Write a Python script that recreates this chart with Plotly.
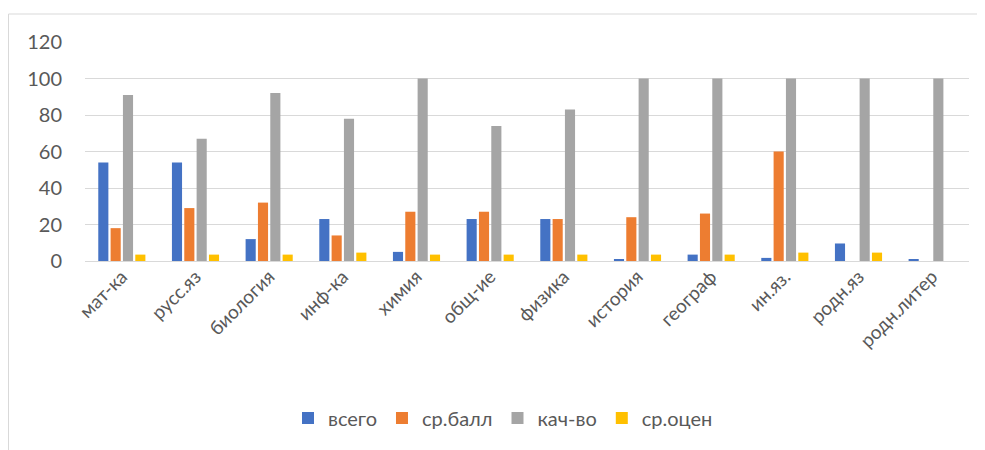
import plotly.graph_objects as go

categories = ["мат-ка", "русс.яз", "биология", "инф-ка", "химия", "общ-ие",
              "физика", "история", "географ", "ин.яз.", "родн.яз", "родн.литер"]
vsego = [54, 54, 12, 23, 5, 23, 23, 0.6, 3.5, 1.7, 9.6, 0.6]
sr_ball = [18, 29, 32, 14, 27, 27, 23, 24, 26, 60, 0, 0]
kach_vo = [91, 67, 92, 78, 100, 74, 83, 100, 100, 100, 100, 100]
sr_ocen = [3.5, 3.5, 3.5, 4.6, 3.5, 3.5, 3.5, 3.5, 3.5, 4.6, 4.6, 0]

series_names = ["всего", "ср.балл", "кач-во", "ср.оцен"]
colors = ["#4472C4", "#ED7D31", "#A5A5A5", "#FFC000"]

fig = go.Figure()
for name, vals, col in zip(series_names, [vsego, sr_ball, kach_vo, sr_ocen], colors):
    fig.add_trace(go.Bar(x=categories, y=vals, name=name,
                         marker=dict(color=col, line=dict(width=0))))

L, R, T, B = 77, 24, 34, 197
PW, PH = 985 - L - R, 450 - T - B

fig.update_layout(
    width=985, height=450,
    margin=dict(l=L, r=R, t=T, b=B, autoexpand=False),
    paper_bgcolor="white", plot_bgcolor="white",
    barmode="group", bargap=0.33, bargroupgap=0.18,
    font=dict(family="Lato, 'Open Sans', sans-serif", color="#595959", size=20),
    legend=dict(orientation="h", x=495 / 985, xanchor="center", xref="container",
                y=1 - 410 / 450, yanchor="middle", yref="container",
                bgcolor="rgba(0,0,0,0)",
                font=dict(size=20, color="#595959"), itemwidth=30, traceorder="normal"),
    showlegend=True,
)
fig.update_yaxes(range=[0, 120], dtick=20, showgrid=True, gridcolor="#D9D9D9", gridwidth=1.3,
                 zeroline=True, zerolinecolor="#D9D9D9", zerolinewidth=1.3,
                 showline=False, ticks="", ticklabelstandoff=22, automargin=False,
                 tickfont=dict(size=20, color="#595959"))
fig.update_xaxes(tickangle=-45, showline=False, ticks="", showgrid=False, automargin=False,
                 tickfont=dict(size=19, color="#595959"), range=[-0.5, 11.5])

fig.add_shape(type="rect", xref="paper", yref="paper",
              x0=(0.5 - L) / PW, x1=(1000 - L) / PW,
              y0=(PH + T - 470) / PH, y1=(PH + T - 6) / PH,
              line=dict(color="#D9D9D9", width=1), layer="below")

fig.write_html("out.html")
